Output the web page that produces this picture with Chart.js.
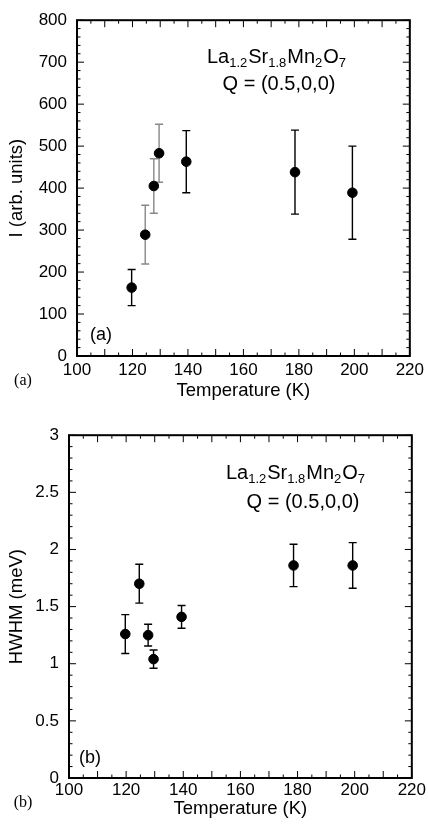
<!DOCTYPE html>
<html>
<head>
<meta charset="utf-8">
<script src="https://cdn.jsdelivr.net/npm/chart.js@4.4.1/dist/chart.umd.min.js"></script>
<style>
  html, body { margin: 0; padding: 0; background: #fff; }
  canvas { position: absolute; left: 0; }
  #chartA { top: 0; }
  #chartB { top: 415px; }
</style>
</head>
<body>
<canvas id="chartA" width="428" height="415"></canvas>
<canvas id="chartB" width="428" height="415"></canvas>
<script>
// temperatures (K)
const temps = [119.7, 124.6, 127.7, 129.6, 139.4, 178.6, 199.3];

// panel (a): intensity, arb. units
const intensity = [163, 289, 405, 483, 463, 438, 389];
const intensityErr = [43, 70, 65, 69, 74, 100, 111];
const intensityErrColor = ['#000', '#888', '#888', '#888', '#000', '#000', '#000'];

// panel (b): HWHM, meV
const hwhm = [1.26, 1.70, 1.25, 1.04, 1.41, 1.86, 1.86];
const hwhmErr = [0.17, 0.17, 0.095, 0.08, 0.10, 0.185, 0.20];

const xTicksMajor = [100, 120, 140, 160, 180, 200, 220];

const FONT = "'Liberation Sans', Arial, sans-serif";

// frame + inward ticks on all four sides, plus error bars and labels
const framePlugin = {
    id: 'frame',
    beforeDatasetsDraw(chart, args, opts) {
        const ctx = chart.ctx;
        const xs = chart.scales.x, ys = chart.scales.y;
        const ds = chart.data.datasets[0];
        ctx.save();
        ctx.lineWidth = 1.4;
        ds.data.forEach((p, i) => {
            const px = xs.getPixelForValue(p.x);
            const top = ys.getPixelForValue(p.y + opts.err[i]);
            const bot = ys.getPixelForValue(p.y - opts.err[i]);
            ctx.strokeStyle = opts.errColor[i];
            ctx.beginPath();
            ctx.moveTo(px, top); ctx.lineTo(px, bot);
            ctx.moveTo(px - 4, top); ctx.lineTo(px + 4, top);
            ctx.moveTo(px - 4, bot); ctx.lineTo(px + 4, bot);
            ctx.stroke();
        });
        ctx.restore();
    },
    afterDraw(chart, args, opts) {
        const ctx = chart.ctx;
        const a = chart.chartArea;
        const xs = chart.scales.x, ys = chart.scales.y;
        ctx.save();
        ctx.strokeStyle = '#000';
        ctx.lineWidth = 1;
        ctx.beginPath();
        for (let v = xs.min; v <= xs.max + 1e-9; v += 5) {
            const px = xs.getPixelForValue(v);
            const len = (Math.round(v) % 10 === 0) ? 7 : 3.5;
            ctx.moveTo(px, a.bottom); ctx.lineTo(px, a.bottom - len);
            ctx.moveTo(px, a.top); ctx.lineTo(px, a.top + len);
        }
        const nMinor = Math.round((ys.max - ys.min) / opts.yMinor);
        for (let k = 0; k <= nMinor; k++) {
            const v = ys.min + k * opts.yMinor;
            const py = ys.getPixelForValue(v);
            const len = (k % 5 === 0) ? 7 : 3.5;
            ctx.moveTo(a.left, py); ctx.lineTo(a.left + len, py);
            ctx.moveTo(a.right, py); ctx.lineTo(a.right - len, py);
        }
        ctx.stroke();
        ctx.lineWidth = 2;
        ctx.strokeRect(a.left, a.top, a.right - a.left, a.bottom - a.top);

        // formula label
        ctx.fillStyle = '#000';
        ctx.textBaseline = 'alphabetic';
        const parts = [['La', 0], ['1.2', 1], ['Sr', 0], ['1.8', 1], ['Mn', 0], ['2', 1], ['O', 0], ['7', 1]];
        const bigF = '20px ' + FONT, smallF = '13px ' + FONT;
        let w = 0;
        parts.forEach(([t, s]) => { ctx.font = s ? smallF : bigF; w += ctx.measureText(t).width + (s ? 1 : 0); });
        let x = opts.formula[0] - w / 2;
        parts.forEach(([t, s]) => {
            ctx.font = s ? smallF : bigF;
            ctx.textAlign = 'left';
            ctx.fillText(t, x, opts.formula[1] + (s ? 4 : 0));
            x += ctx.measureText(t).width + (s ? 1 : 0);
        });
        ctx.font = bigF;
        ctx.textAlign = 'center';
        ctx.fillText('Q = (0.5,0,0)', opts.qLine[0], opts.qLine[1]);

        ctx.textBaseline = 'middle';
        ctx.font = '18px ' + FONT;
        ctx.fillText(opts.tag, opts.inner[0], opts.inner[1]);
        ctx.font = '16px "Liberation Serif", "Times New Roman", serif';
        ctx.fillText(opts.tag, opts.outer[0], opts.outer[1]);
        ctx.restore();
    }
};

function makePanel(id, values, errs, errColors, yCfg, yTitle, frameOpts, layout) {
    new Chart(document.getElementById(id), {
        type: 'scatter',
        data: {
            datasets: [{
                data: temps.map((t, i) => ({ x: t, y: values[i] })),
                backgroundColor: '#000',
                borderColor: '#000',
                pointRadius: 4.8,
                pointHoverRadius: 4.8
            }]
        },
        options: {
            responsive: false,
            animation: false,
            devicePixelRatio: 1,
            layout: { padding: { left: 0, right: 15, top: layout.top, bottom: 0 } },
            plugins: {
                legend: { display: false },
                tooltip: { enabled: false },
                frame: Object.assign({ err: errs, errColor: errColors }, frameOpts)
            },
            scales: {
                x: {
                    type: 'linear',
                    min: 100, max: 220,
                    afterBuildTicks: s => { s.ticks = xTicksMajor.map(v => ({ value: v })); },
                    afterFit: s => { s.height = layout.xHeight; },
                    grid: { display: false, drawTicks: false },
                    border: { display: false },
                    ticks: { color: '#000', font: { size: 17, family: FONT }, padding: layout.xTickPad,
                             maxRotation: 0, callback: v => String(v) },
                    title: { display: true, text: 'Temperature (K)', color: '#000',
                             font: { size: 18.5, family: FONT }, padding: { top: 0, bottom: layout.xTitlePad } }
                },
                y: {
                    min: yCfg.min, max: yCfg.max,
                    afterBuildTicks: s => { s.ticks = yCfg.ticks.map(v => ({ value: v })); },
                    afterFit: s => { s.width = layout.yWidth; },
                    grid: { display: false, drawTicks: false },
                    border: { display: false },
                    ticks: { color: '#000', font: { size: 17, family: FONT }, padding: 10,
                             callback: v => String(v) },
                    title: { display: true, text: yTitle, color: '#000',
                             font: { size: 18.5, family: FONT }, padding: { top: 6, bottom: 0 } }
                }
            }
        },
        plugins: [framePlugin]
    });
}

makePanel('chartA', intensity, intensityErr, intensityErrColor,
    { min: 0, max: 800, ticks: [0, 100, 200, 300, 400, 500, 600, 700, 800] },
    'I (arb. units)',
    { yMinor: 20, tag: '(a)', formula: [277, 63], qLine: [279, 90], inner: [101, 335], outer: [23, 381] },
    { top: 19, xHeight: 59, yWidth: 77, xTitlePad: 13, xTickPad: 4 });

makePanel('chartB', hwhm, hwhmErr, hwhm.map(() => '#000'),
    { min: 0, max: 3, ticks: [0, 0.5, 1, 1.5, 2, 2.5, 3] },
    'HWHM (meV)',
    { yMinor: 0.1, tag: '(b)', formula: [296, 64], qLine: [303, 93], inner: [90, 343], outer: [23, 388] },
    { top: 17, xHeight: 52, yWidth: 69, xTitlePad: 10, xTickPad: 2 });
</script>
</body>
</html>
